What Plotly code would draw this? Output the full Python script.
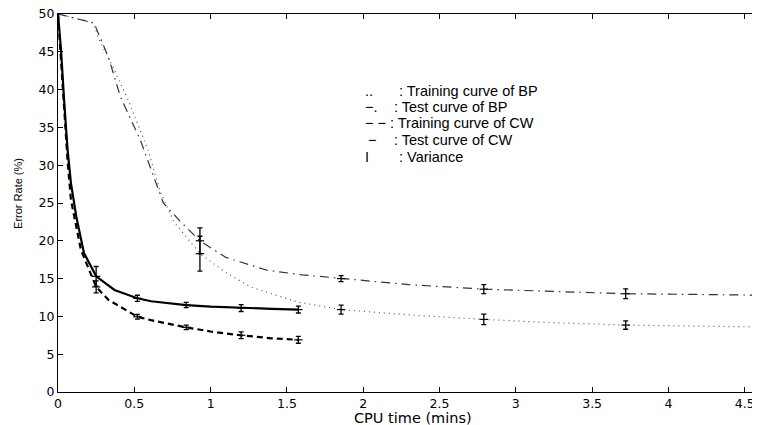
import plotly.graph_objects as go

# BP training curve (dotted)
bp_train_x = [0, 0.236, 0.26, 0.36, 0.46, 0.59, 0.67, 0.76, 0.93, 1.1, 1.26, 1.57, 1.855, 2.3, 2.79, 3.2, 3.72, 4.2, 4.6]
bp_train_y = [50, 48.8, 47.0, 43.0, 38.6, 32.0, 26.5, 22.5, 18.3, 15.8, 13.9, 11.9, 10.9, 10.2, 9.6, 9.2, 8.85, 8.7, 8.6]
# BP test curve (dash-dot)
bp_test_x = [0, 0.236, 0.33, 0.41, 0.54, 0.65, 0.69, 0.8, 0.93, 1.1, 1.37, 1.6, 1.855, 2.3, 2.79, 3.2, 3.72, 4.2, 4.6]
bp_test_y = [50, 48.8, 44.3, 39.0, 33.3, 27.1, 25.0, 22.6, 20.0, 17.8, 16.1, 15.5, 15.0, 14.2, 13.6, 13.3, 13.0, 12.9, 12.8]
# CW test curve (solid)
cw_test_x = [0, 0.01, 0.02, 0.04, 0.063, 0.085, 0.12, 0.17, 0.25, 0.37, 0.52, 0.61, 0.84, 1.0, 1.2, 1.4, 1.575]
cw_test_y = [50, 47.5, 45.2, 38.6, 32.0, 27.6, 23.2, 18.4, 15.3, 13.5, 12.4, 12.0, 11.5, 11.3, 11.1, 11.0, 10.9]
# CW training curve (dashed)
cw_train_x = [0, 0.01, 0.02, 0.04, 0.063, 0.085, 0.15, 0.25, 0.33, 0.52, 0.61, 0.84, 1.0, 1.2, 1.4, 1.575]
cw_train_y = [50, 47.0, 44.5, 37.5, 30.5, 25.4, 18.8, 13.9, 12.2, 9.95, 9.5, 8.55, 8.0, 7.5, 7.1, 6.9]

# Variance (error bars)
cw_err_x = [0.25, 0.52, 0.84, 1.2, 1.575]
cw_test_err_y = [15.3, 12.4, 11.5, 11.1, 10.9]
cw_test_err = [1.3, 0.4, 0.35, 0.45, 0.45]
cw_train_err_y = [13.9, 9.95, 8.55, 7.5, 6.9]
cw_train_err = [0.8, 0.3, 0.3, 0.45, 0.45]
bp_err_x = [0.93, 1.855, 2.79, 3.72]
bp_test_err_y = [20.0, 15.0, 13.6, 13.0]
bp_test_err = [1.7, 0.4, 0.6, 0.65]
bp_train_err_y = [18.3, 10.9, 9.6, 8.85]
bp_train_err = [2.3, 0.6, 0.7, 0.55]

x_ticks = [0, 0.5, 1, 1.5, 2, 2.5, 3, 3.5, 4, 4.5]
y_ticks = [0, 5, 10, 15, 20, 25, 30, 35, 40, 45, 50]

legend_symbols = ["..", "−.", "− −", "−", "I"]
legend_texts = [": Training curve of BP", ": Test curve of BP", ": Training curve of CW",
                ": Test curve of CW", ": Variance"]

FONT = "Liberation Sans, Arial, Helvetica, sans-serif"
TICKFONT = "DejaVu Sans, sans-serif"

fig = go.Figure()
fig.add_trace(go.Scatter(x=bp_train_x, y=bp_train_y, mode="lines",
                         line=dict(color="#555555", width=1.2, dash="1px,4px")))
fig.add_trace(go.Scatter(x=bp_test_x, y=bp_test_y, mode="lines",
                         line=dict(color="#333333", width=1.2, dash="9px,5px,1.5px,5px")))
fig.add_trace(go.Scatter(x=cw_test_x, y=cw_test_y, mode="lines",
                         line=dict(color="black", width=2.2)))
fig.add_trace(go.Scatter(x=cw_train_x, y=cw_train_y, mode="lines",
                         line=dict(color="black", width=2.2, dash="6px,4px")))

for ex, ey, ee in [(cw_err_x, cw_test_err_y, cw_test_err),
                   (cw_err_x, cw_train_err_y, cw_train_err),
                   (bp_err_x, bp_test_err_y, bp_test_err),
                   (bp_err_x, bp_train_err_y, bp_train_err)]:
    fig.add_trace(go.Scatter(
        x=ex, y=ey, mode="markers",
        marker=dict(symbol="line-ew-open", size=6, color="black", line=dict(width=1.2, color="black")),
        error_y=dict(type="data", array=ee, visible=True, color="black", thickness=1.3, width=2.5)))

# text legend (positions in data units)
row_y = [39.88, 37.74, 35.54, 33.33, 31.12]
colon_x = [2.222, 2.19, 2.163, 2.19, 2.222]
sym_x = [2.0, 2.0, 2.0, 2.02, 2.0]
for s, t, ry, cx, sx in zip(legend_symbols, legend_texts, row_y, colon_x, sym_x):
    fig.add_annotation(x=sx, y=ry, xref="x", yref="y", text=s, showarrow=False,
                       xanchor="left", yanchor="middle", font=dict(size=14.5, color="black", family=FONT))
    fig.add_annotation(x=cx, y=ry, xref="x", yref="y", text=t, showarrow=False,
                       xanchor="left", yanchor="middle", font=dict(size=14.5, color="black", family=FONT))

# axis titles
fig.add_annotation(x=2.326, y=0, xref="x", yref="paper", yshift=-26, text="CPU time (mins)",
                   showarrow=False, xanchor="center", yanchor="middle",
                   font=dict(size=14.5, color="black", family=TICKFONT))
fig.add_annotation(x=0, y=26.2, xref="paper", yref="y", xshift=-40, text="Error Rate (%)",
                   textangle=-90, showarrow=False, xanchor="center", yanchor="middle",
                   font=dict(size=11, color="black", family=FONT))

# the page body adds an 8px offset, so the figure is sized to end at the window edge
fig.update_layout(
    width=752, height=417,
    margin=dict(l=50, r=0, t=6, b=33),
    paper_bgcolor="white", plot_bgcolor="white",
    showlegend=False,
    font=dict(family=FONT, size=13, color="black"),
    xaxis=dict(range=[0, 4.6], tickvals=x_ticks, ticktext=[str(v) for v in x_ticks],
               ticks="inside", ticklen=5, tickcolor="black", showgrid=False, zeroline=False,
               showline=True, linecolor="black", linewidth=1.3, mirror="ticks",
               automargin=False, ticklabeloverflow="allow",
               tickfont=dict(size=12.5, family=TICKFONT)),
    yaxis=dict(range=[0, 50], tickvals=y_ticks, ticks="inside", ticklen=5, tickcolor="black",
               showgrid=False, zeroline=False, showline=True, linecolor="black", linewidth=1.3,
               mirror=False, automargin=False, ticklabeloverflow="allow",
               tickfont=dict(size=12.5, family=TICKFONT)),
)

fig.write_html("out.html")
